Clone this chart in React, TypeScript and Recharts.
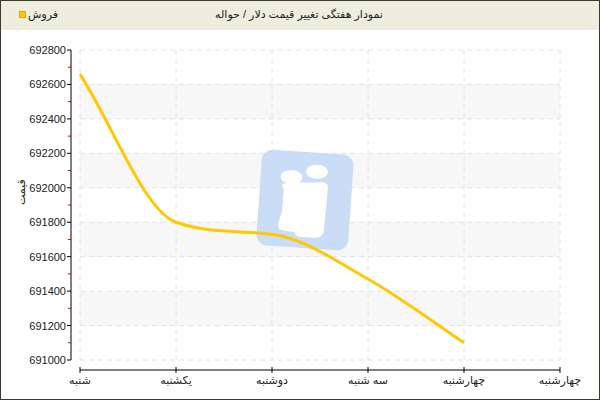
import { LineChart, Line, XAxis, YAxis, CartesianGrid, Legend, Customized } from 'recharts';

// weekly dollar (havaleh) sell price
const days = ['شنبه', 'یکشنبه', 'دوشنبه', 'سه شنبه', 'چهارشنبه', 'چهارشنبه'];
const sales = [692660, 691800, 691730, 691470, 691100, null];

const yTicks = [
    691000, 691100, 691200, 691300, 691400, 691500, 691600, 691700, 691800, 691900,
    692000, 692100, 692200, 692300, 692400, 692500, 692600, 692700, 692800,
];
const majorTicks = yTicks.filter(v => v % 200 === 0);
const Y_MIN = 691000;
const Y_MAX = 692800;

const LINE_COLOR = '#ffc800';
const FONT = "'Liberation Sans', 'DejaVu Sans', sans-serif";

const data = days.map((day, i) => ({ day, sales: sales[i] }));

// monotone cubic with secant slopes at the ends (the original chart's spline looks like this)
const monotoneSecant = (context: any) => {
    let xs: number[] = [];
    let ys: number[] = [];
    return {
        areaStart() {},
        areaEnd() {},
        lineStart() {
            xs = [];
            ys = [];
        },
        point(x: number, y: number) {
            xs.push(+x);
            ys.push(+y);
        },
        lineEnd() {
            const n = xs.length;
            if (!n) return;
            context.moveTo(xs[0], ys[0]);
            if (n === 1) return;
            const d: number[] = [];
            for (let i = 0; i < n - 1; i++) d.push((ys[i + 1] - ys[i]) / (xs[i + 1] - xs[i]));
            const m: number[] = [d[0]];
            for (let i = 1; i < n - 1; i++) m.push(d[i - 1] * d[i] <= 0 ? 0 : (d[i - 1] + d[i]) / 2);
            m.push(d[n - 2]);
            for (let i = 0; i < n - 1; i++) {
                if (d[i] === 0) {
                    m[i] = 0;
                    m[i + 1] = 0;
                    continue;
                }
                const a = m[i] / d[i];
                const b = m[i + 1] / d[i];
                const sq = a * a + b * b;
                if (sq <= 9) continue;
                const tau = 3 / Math.sqrt(sq);
                m[i] = a * tau * d[i];
                m[i + 1] = b * tau * d[i];
            }
            for (let i = 0; i < n - 1; i++) {
                const dx = (xs[i + 1] - xs[i]) / 3;
                context.bezierCurveTo(
                    xs[i] + dx, ys[i] + m[i] * dx,
                    xs[i + 1] - dx, ys[i + 1] - m[i + 1] * dx,
                    xs[i + 1], ys[i + 1],
                );
            }
        },
    };
};

const YTick = (props: any) => {
    const { x, y, payload } = props;
    const ax = x - 9;
    if (payload.value % 200 !== 0) {
        return <line x1={ax - 3} x2={ax} y1={y} y2={y} stroke="#e00000" />;
    }
    return (
        <g>
            <line x1={ax - 4} x2={ax} y1={y} y2={y} stroke="#000" />
            <text x={ax - 5} y={y} dy={4} textAnchor="end" fontSize={11} fontFamily={FONT} fill="#222">
                {payload.value}
            </text>
        </g>
    );
};

const XTick = (props: any) => {
    const { x, y, payload } = props;
    const label = typeof payload.value === 'number' ? days[payload.value] : payload.value;
    return (
        <g>
            <line x1={x} x2={x} y1={y + 7} y2={y + 13} stroke="#000" />
            <text x={x} y={y + 24} textAnchor="middle" fontSize={11} fontFamily={FONT} fill="#222">
                {label}
            </text>
        </g>
    );
};

// grid only on the labelled (major) ticks
const majorGrid = ({ offset }: any) =>
    majorTicks.map(v => offset.top + (offset.height * (Y_MAX - v)) / (Y_MAX - Y_MIN));

// watermark logo behind the line
const Watermark = () => (
    <g transform="rotate(4 305 200)" opacity={0.9}>
        <rect x={259} y={152} width={92} height={96} rx={11} fill="#c6daf6" />
        <ellipse cx={290} cy={178} rx={11} ry={7} fill="#fff" />
        <ellipse cx={315} cy={171} rx={11} ry={7} fill="#fff" />
        <path
            d="M283 190 Q278 186 285 184 L321 181 Q327 181 327 186 L326 228 Q326 237 316 237 L302 237 Q298 237 297 233 L286 232 Q279 232 280 225 L283 212 Z"
            fill="#fff"
        />
    </g>
);

export default function App() {
    return (
        <div
            style={{
                position: 'absolute',
                left: 0,
                top: 0,
                width: 600,
                height: 400,
                boxSizing: 'border-box',
                border: '1px solid #3a3a32',
                background: '#fff',
                fontFamily: FONT,
            }}
        >
            <div style={{ position: 'absolute', left: 0, top: 0, width: 598, height: 29, background: '#eeeedf' }} />
            <div
                style={{
                    position: 'absolute',
                    left: 0,
                    top: 7,
                    width: 596,
                    textAlign: 'center',
                    fontSize: 11,
                    color: '#222',
                    direction: 'rtl',
                }}
            >
                نمودار هفتگی تغییر قیمت دلار / حواله
            </div>
            <div style={{ position: 'absolute', left: -1, top: -1 }}>
                <LineChart width={600} height={400} data={data} margin={{ top: 50, right: 40, bottom: 10, left: 10 }}>
                    <CartesianGrid
                        stroke="#e2e2e2"
                        strokeDasharray="5 4"
                        horizontalFill={['#ffffff', '#f7f7f7']}
                        horizontalCoordinatesGenerator={majorGrid}
                    />
                    <Customized component={Watermark} />
                    <XAxis
                        dataKey="day"
                        height={30}
                        tickSize={0}
                        tickMargin={0}
                        interval={0}
                        axisLine={{ stroke: '#000', transform: 'translate(0,10)' }}
                        tickLine={false}
                        tick={<XTick />}
                    />
                    <YAxis
                        width={70}
                        domain={[Y_MIN, Y_MAX]}
                        ticks={yTicks}
                        interval={0}
                        tickSize={0}
                        tickMargin={0}
                        axisLine={{ stroke: '#000', transform: 'translate(-9,0)' }}
                        tickLine={false}
                        tick={<YTick />}
                        label={{ value: 'قیمت', angle: -90, position: 'insideLeft', offset: 11, fontSize: 11, fill: '#222' }}
                    />
                    <Legend
                        layout="vertical"
                        align="center"
                        verticalAlign="middle"
                        wrapperStyle={{ top: 8, left: 19, width: 'auto', height: 'auto' }}
                        content={({ payload }: any) => (
                            <div style={{ display: 'flex', alignItems: 'center', fontSize: 11, color: '#222' }}>
                                {(payload || []).map((p: any) => (
                                    <span key={p.value} style={{ display: 'flex', alignItems: 'center', gap: 2 }}>
                                        <span style={{ width: 5, height: 5, background: p.color, border: '1px solid #e6a800' }} />
                                        <span>{p.value}</span>
                                    </span>
                                ))}
                            </div>
                        )}
                    />
                    <Line
                        type={monotoneSecant as any}
                        dataKey="sales"
                        name="فروش"
                        stroke={LINE_COLOR}
                        strokeWidth={3}
                        dot={false}
                        activeDot={false}
                        isAnimationActive={false}
                    />
                </LineChart>
            </div>
        </div>
    );
}
